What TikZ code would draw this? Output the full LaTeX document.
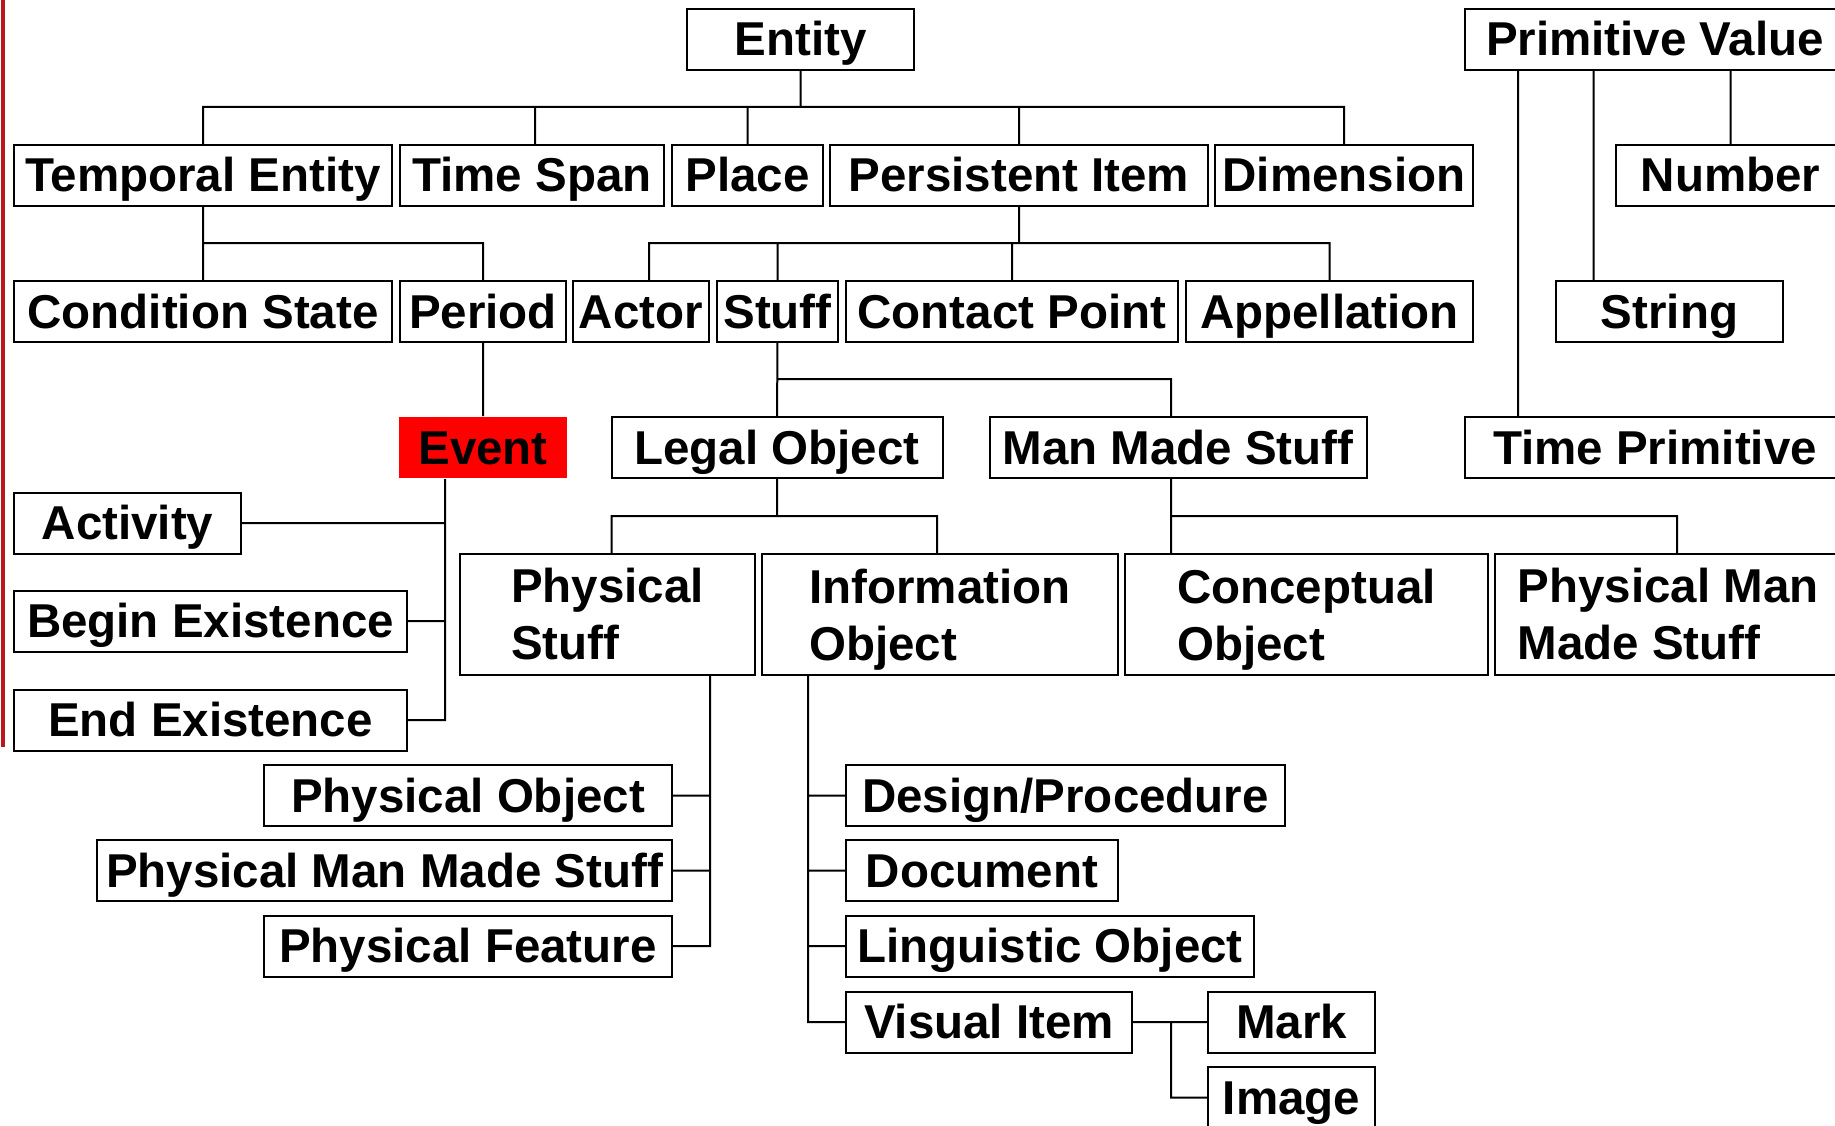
\documentclass[tikz,border=0pt]{standalone}
\usepackage{fontspec}
\setmainfont{Liberation Sans}
\usepackage{tikz}

\definecolor{leftbar}{RGB}{185,22,30}

\begin{document}
\begin{tikzpicture}[x=1pt,y=-1pt,
	clsbase/.style={draw,line width=2pt,inner sep=0pt,
		font=\bfseries\fontsize{47.5}{57}\selectfont},
	cls/.style={clsbase,minimum height=61pt,text height=41pt,text depth=8pt},
	cls2/.style={clsbase,minimum height=121pt,align=left},
	evt/.style={cls,draw=none,fill=red},
	link/.style={draw,line width=2pt}]

	\useasboundingbox (0,0) rectangle (1835,1126);
	\draw[line width=4.5pt,leftbar] (3,0) -- (3,747);

	% top
	\node[cls,minimum width=227pt] (entity) at (800.5,39.5) {Entity};
	\node[cls,minimum width=380pt] (primval) at (1655,39.5) {Primitive Value};

	\node[cls,minimum width=378pt] (temporal) at (203,175.5) {Temporal Entity};
	\node[cls,minimum width=264pt] (timespan) at (532,175.5) {Time Span};
	\node[cls,minimum width=151pt] (place) at (747.5,175.5) {Place};
	\node[cls,minimum width=378pt] (persistent) at (1019,175.5) {Persistent Item};
	\node[cls,minimum width=258pt] (dimension) at (1344,175.5) {Dimension};
	\node[cls,minimum width=229pt] (number) at (1730.5,175.5) {Number};

	\node[cls,minimum width=378pt] (condition) at (203,311.5) {Condition State};
	\node[cls,minimum width=166pt] (period) at (483,311.5) {Period};
	\node[cls,minimum width=136pt] (actor) at (641,311.5) {Actor};
	\node[cls,minimum width=121pt] (stuff) at (777.5,311.5) {Stuff};
	\node[cls,minimum width=332pt] (contact) at (1012,311.5) {Contact Point};
	\node[cls,minimum width=287pt] (appellation) at (1329.5,311.5) {Appellation};
	\node[cls,minimum width=227pt] (string) at (1669.5,311.5) {String};

	\node[evt,minimum width=168pt] (event) at (483,447.5) {Event};
	\node[cls,minimum width=331pt] (legal) at (777,447.5) {Legal Object};
	\node[cls,minimum width=377pt] (manmade) at (1178,447.5) {Man Made Stuff};
	\node[cls,minimum width=380pt] (timeprim) at (1655,447.5) {Time Primitive};

	% event kinds
	\node[cls,minimum width=227pt] (activity) at (127.5,523) {Activity};
	\node[cls,minimum width=393pt] (beginex) at (210.5,621) {Begin Existence};
	\node[cls,minimum width=393pt] (endex) at (210.5,720) {End Existence};

	\node[cls2,minimum width=295pt] (physstuff) at (607.5,614.5) {Physical\\Stuff};
	\node[cls2,minimum width=356pt] (infoobj) at (940,614.5) {Information\\\smash{Object}};
	\node[cls2,minimum width=363pt] (concept) at (1306.5,614.5) {Conceptual\\\smash{Object}};
	\node[cls2,minimum width=346pt] (pmms) at (1668,614.5) {Physical Man\\Made Stuff};

	\node[cls,minimum width=408pt] (physobj) at (468,795.5) {Physical Object};
	\node[cls,minimum width=575pt] (physmms) at (384.5,870.5) {Physical Man Made Stuff};
	\node[cls,minimum width=408pt] (physfeat) at (468,946) {Physical Feature};

	\node[cls,minimum width=439pt] (design) at (1065.5,795.5) {Design/Procedure};
	\node[cls,minimum width=272pt] (document) at (982,870.5) {Document};
	\node[cls,minimum width=408pt] (linguistic) at (1050,946) {Linguistic Object};
	\node[cls,minimum width=286pt] (visual) at (989,1022) {Visual Item};
	\node[cls,minimum width=167pt] (mark) at (1291.5,1022) {Mark};
	\node[cls,minimum width=167pt] (image) at (1291.5,1097.5) {Image};

	\coordinate (entbus) at (800.5,107);
	\coordinate (tempbus) at (203,243);
	\coordinate (persbus) at (1019,243);
	\coordinate (stuffbus) at (777.5,379);
	\coordinate (legbus) at (777,516);
	\coordinate (mmbus) at (1171,516);
	\coordinate (evstem) at (445,720);
	\coordinate (psstem) at (710,946);
	\coordinate (iostem) at (808,1022);
	\coordinate (visplit) at (1171,1022);

	\path[link]
	(entity) -- (entbus)
	(entbus) -| (temporal.north)
	(entbus) -| ([xshift=3pt]timespan.north)
	(entbus) -| (place.north)
	(entbus) -| (persistent.north)
	(entbus) -| (dimension.north)

	([xshift=-137pt]primval.south) -- ([xshift=-137pt]timeprim.north)
	([xshift=-76pt]string.north) -- ([xshift=-76pt]string.north |- primval.south)
	(number.north) -- (number.north |- primval.south)

	(temporal) -- (tempbus) -- (condition)
	(tempbus) -| (period.north)
	(persistent) -- (persbus)
	(persbus) -| ([xshift=8pt]actor.north)
	(persbus) -| (stuff.north)
	(persbus) -| (contact.north)
	(persbus) -| (appellation.north)

	(period) -- (event)
	(stuff) -- (legal)
	(stuffbus) -| ([xshift=-7pt]manmade.north)

	([xshift=-38pt]event.south) -- (evstem) -- (endex.east)
	(activity.east) -- (activity.east -| evstem)
	(beginex.east) -- (beginex.east -| evstem)

	(legal) -- (legbus)
	(legbus) -| ([xshift=4pt]physstuff.north)
	(legbus) -| ([xshift=-3pt]infoobj.north)
	([xshift=-7pt]manmade.south) -- (mmbus) -- (mmbus |- concept.north)
	(mmbus) -| ([xshift=9pt]pmms.north)

	([xshift=102.5pt]physstuff.south) -- (psstem) -- (physfeat.east)
	(physobj.east) -- (physobj.east -| psstem)
	(physmms.east) -- (physmms.east -| psstem)

	([xshift=-132pt]infoobj.south) -- (iostem) -- (visual.west)
	(design.west) -- (design.west -| iostem)
	(document.west) -- (document.west -| iostem)
	(linguistic.west) -- (linguistic.west -| iostem)

	(visual.east) -- (mark.west)
	(visplit) |- (image.west);

\end{tikzpicture}
\end{document}
